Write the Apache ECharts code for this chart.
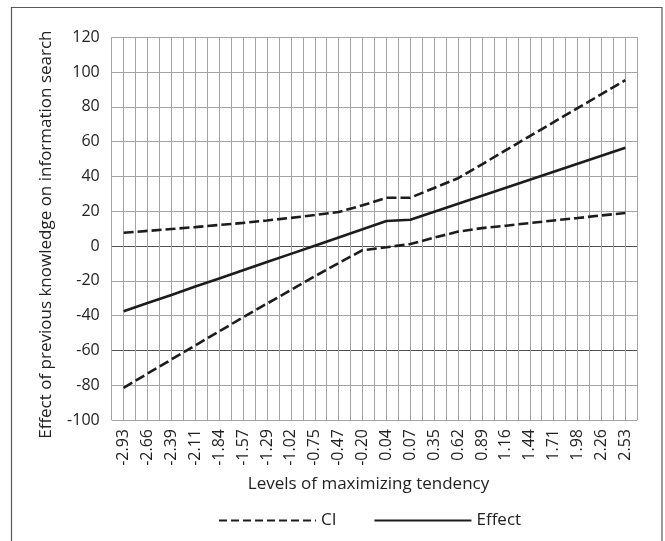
<!DOCTYPE html>
<html>
<head>
<meta charset="utf-8">
<script src="https://cdn.jsdelivr.net/npm/echarts@6/dist/echarts.min.js"></script>
<style>
html,body{margin:0;padding:0;background:#fff;}
#chart{width:665px;height:541px;}
</style>
</head>
<body>
<div id="chart"></div>
<script>
// Levels of maximizing tendency (labelled categories)
const tickLabels = ['-2.93','-2.66','-2.39','-2.11','-1.84','-1.57','-1.29','-1.02','-0.75','-0.47','-0.20','0.04','0.07','0.35','0.62','0.89','1.16','1.44','1.71','1.98','2.26','2.53'];
// Conditional effect
const effect = [-37.5,-32.8,-28.1,-23.3,-18.6,-13.9,-9.2,-4.5,0.2,4.9,9.6,14.4,15.1,19.7,24.3,28.9,33.5,38.1,42.7,47.3,51.9,56.5];
// Upper and lower confidence interval bounds
const ciUpper = [7.6,8.7,9.8,10.9,12.1,13.3,14.7,16.2,17.8,19.6,23.4,27.8,27.8,33.4,39.0,47.0,55.1,63.2,71.2,79.3,87.3,95.4];
const ciLower = [-81.5,-73.3,-65.2,-57.1,-49.0,-41.0,-33.1,-25.2,-17.4,-9.8,-2.4,-0.7,1.2,4.8,8.3,10.3,11.7,13.2,14.7,16.1,17.6,19.0];
// Y axis range
const yMin = -100, yMax = 120, yStep = 20;

// category axis: one padding slot at each end and an unlabelled slot between labels
const categories = ['pad_start'];
tickLabels.forEach((t, i) => {
  categories.push(t);
  if (i < tickLabels.length - 1) categories.push('mid_' + i);
});
categories.push('pad_end');

function expand(vals) {
  const out = [null];
  vals.forEach((v, i) => {
    out.push(v);
    if (i < vals.length - 1) out.push(null);
  });
  out.push(null);
  return out;
}

const gridGray = '#a3a3a3';
const darkLine = '#505050';
const yLineColors = [];
for (let v = yMin; v <= yMax; v += yStep) {
  yLineColors.push((v === 0 || v === -60) ? darkLine : gridGray);
}

const FONT = '"Open Sans", "Noto Sans", sans-serif';
const textColor = '#222';
const lineColor = '#1c1c1c';

const chart = echarts.init(document.getElementById('chart'), null, {renderer: 'canvas'});
chart.setOption({
  animation: false,
  backgroundColor: '#fff',
  textStyle: {fontFamily: FONT},
  graphic: [{
    type: 'rect',
    shape: {x: 11.5, y: 7.5, width: 650.5, height: 560},
    style: {fill: 'none', stroke: '#5a5a5a', lineWidth: 1.2},
    silent: true,
    z: -1
  }],
  grid: {left: 111.7, right: 27.7, top: 37.3, bottom: 121, containLabel: false},
  legend: {
    data: [
      {name: 'CI', lineStyle: {type: [8, 4]}},
      {name: 'Effect'}
    ],
    left: 218,
    top: 512,
    padding: 0,
    itemWidth: 97,
    itemHeight: 16,
    itemGap: 37,
    itemStyle: {opacity: 0, borderWidth: 0},
    textStyle: {fontSize: 17, color: textColor, fontFamily: FONT}
  },
  xAxis: {
    type: 'category',
    data: categories,
    boundaryGap: false,
    name: 'Levels of maximizing tendency',
    nameLocation: 'middle',
    nameGap: 56,
    nameTextStyle: {fontSize: 17, color: textColor, fontFamily: FONT, padding: [0, 12, 0, 0]},
    axisLine: {show: false},
    axisTick: {show: false},
    axisLabel: {
      interval: (idx) => idx % 2 === 1,
      rotate: 90,
      margin: 9,
      fontSize: 16,
      color: textColor,
      fontFamily: FONT
    },
    splitLine: {show: true, interval: 0, lineStyle: {color: gridGray, width: 1}}
  },
  yAxis: {
    type: 'value',
    min: yMin,
    max: yMax,
    interval: yStep,
    name: 'Effect of previous knowledge on information search',
    nameLocation: 'middle',
    nameGap: 57,
    nameTextStyle: {fontSize: 17, color: textColor, fontFamily: FONT, padding: [0, 12, 0, 0]},
    axisLine: {show: false},
    axisTick: {show: false},
    axisLabel: {margin: 12, fontSize: 16, color: textColor, fontFamily: FONT},
    splitLine: {show: true, lineStyle: {color: yLineColors, width: 1}}
  },
  series: [
    {
      name: 'CI', type: 'line', data: expand(ciUpper), connectNulls: true,
      symbol: 'none', showSymbol: false,
      lineStyle: {color: lineColor, width: 2.6, type: [10, 4]},
      itemStyle: {color: lineColor}
    },
    {
      name: 'CI', type: 'line', data: expand(ciLower), connectNulls: true,
      symbol: 'none', showSymbol: false,
      lineStyle: {color: lineColor, width: 2.6, type: [10, 4]},
      itemStyle: {color: lineColor}
    },
    {
      name: 'Effect', type: 'line', data: expand(effect), connectNulls: true,
      symbol: 'none', showSymbol: false,
      lineStyle: {color: lineColor, width: 2.6},
      itemStyle: {color: lineColor}
    }
  ]
});
</script>
</body>
</html>
